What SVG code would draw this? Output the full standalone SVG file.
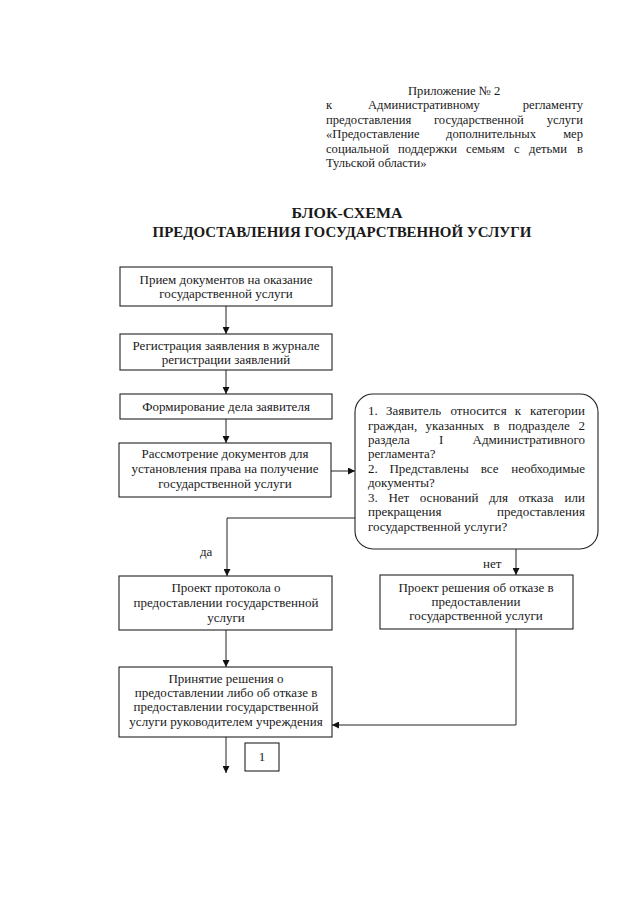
<svg xmlns="http://www.w3.org/2000/svg" width="640" height="897" viewBox="0 0 640 897">
<style>
text{font-family:"Liberation Serif","Times New Roman",serif;font-size:13px;fill:#1a1a1a}
.h{font-size:12.6px}
.c{text-anchor:middle}
.e{text-anchor:end}
.t{font-weight:bold;font-size:15px;text-anchor:middle}
.box{fill:#fff;stroke:#222;stroke-width:1.1}
.ln{fill:none;stroke:#222;stroke-width:1}
</style>
<defs>
<marker id="ah" viewBox="0 0 10 10" refX="10" refY="5" markerWidth="7" markerHeight="7" markerUnits="userSpaceOnUse" orient="auto">
<path d="M0,0 L10,5 L0,10 z" fill="#111"/>
</marker>
</defs>
<rect width="640" height="897" fill="#fff"/>

<g id="header" class="h">
<text class="h" x="408" y="95">Приложение № 2</text>
<text class="h" x="326" y="109">к</text><text class="h" x="368" y="109">Административному</text><text class="h e" x="583" y="109">регламенту</text>
<text class="h" x="326" y="124">предоставления</text><text class="h" x="434" y="124">государственной</text><text class="h e" x="583" y="124">услуги</text>
<text class="h" x="326" y="138">«Предоставление</text><text class="h" x="446" y="138">дополнительных</text><text class="h e" x="583" y="138">мер</text>
<text class="h" x="326" y="153">социальной</text><text class="h" x="398" y="153">поддержки</text><text class="h" x="466" y="153">семьям</text><text class="h" x="514" y="153">с</text><text class="h" x="529" y="153">детьми</text><text class="h e" x="583" y="153">в</text>
<text class="h" x="326" y="167">Тульской области»</text>
</g>

<g id="title">
<text class="t" x="347" y="218" textLength="111" lengthAdjust="spacingAndGlyphs">БЛОК-СХЕМА</text>
<text class="t" x="342" y="237" textLength="379" lengthAdjust="spacingAndGlyphs">ПРЕДОСТАВЛЕНИЯ ГОСУДАРСТВЕННОЙ УСЛУГИ</text>
</g>

<g id="connectors">
<path class="ln" d="M226,306 V334" marker-end="url(#ah)"/>
<path class="ln" d="M226,370 V394" marker-end="url(#ah)"/>
<path class="ln" d="M226,419 V443" marker-end="url(#ah)"/>
<path class="ln" d="M331,471 H355" marker-end="url(#ah)"/>
<path class="ln" d="M355,518 H227 V576" marker-end="url(#ah)"/>
<path class="ln" d="M516,549 V575" marker-end="url(#ah)"/>
<path class="ln" d="M226,630 V667" marker-end="url(#ah)"/>
<path class="ln" d="M516,629 V725 H332" marker-end="url(#ah)"/>
<path class="ln" d="M226,737 V773" marker-end="url(#ah)"/>
<text x="200" y="556">да</text>
<text x="483" y="568">нет</text>
</g>

<g id="n1">
<rect class="box" x="120" y="267" width="212" height="39"/>
<text class="c" x="226" y="284">Прием документов на оказание</text>
<text class="c" x="226" y="298">государственной услуги</text>
</g>

<g id="n2">
<rect class="box" x="120" y="334" width="212" height="36"/>
<text class="c" x="226" y="350">Регистрация заявления в журнале</text>
<text class="c" x="226" y="364">регистрации заявлений</text>
</g>

<g id="n3">
<rect class="box" x="120" y="394" width="212" height="25"/>
<text class="c" x="226" y="411">Формирование дела заявителя</text>
</g>

<g id="n4">
<rect class="box" x="119" y="443" width="212" height="54"/>
<text class="c" x="225" y="458">Рассмотрение документов для</text>
<text class="c" x="225" y="473">установления права на получение</text>
<text class="c" x="225" y="488">государственной услуги</text>
</g>

<g id="decision">
<rect class="box" x="355" y="394" width="243" height="155" rx="18" ry="18"/>
<text x="368" y="415">1.</text><text x="386" y="415">Заявитель</text><text x="450.5" y="415">относится</text><text x="514.7" y="415">к</text><text class="e" x="585" y="415">категории</text>
<text x="368" y="430">граждан,</text><text x="425.6" y="430">указанных</text><text x="493.4" y="430">в</text><text x="508.3" y="430">подразделе</text><text class="e" x="585" y="430">2</text>
<text x="368" y="444">раздела</text><text x="439" y="444">I</text><text class="e" x="585" y="444">Административного</text>
<text x="368" y="458">регламента?</text>
<text x="368" y="473">2.</text><text x="389.4" y="473">Представлены</text><text x="480.8" y="473">все</text><text class="e" x="585" y="473">необходимые</text>
<text x="368" y="487">документы?</text>
<text x="368" y="502">3.</text><text x="388.4" y="502">Нет</text><text x="419.8" y="502">оснований</text><text x="488.9" y="502">для</text><text x="518.6" y="502">отказа</text><text class="e" x="585" y="502">или</text>
<text x="368" y="516">прекращения</text><text class="e" x="585" y="516">предоставления</text>
<text x="368" y="531">государственной услуги?</text>
</g>

<g id="n5">
<rect class="box" x="119" y="576" width="213" height="54"/>
<text class="c" x="226" y="592">Проект протокола о</text>
<text class="c" x="226" y="607">предоставлении государственной</text>
<text class="c" x="226" y="622">услуги</text>
</g>

<g id="n6">
<rect class="box" x="380" y="575" width="193" height="54"/>
<text class="c" x="476" y="592">Проект решения об отказе в</text>
<text class="c" x="476" y="606">предоставлении</text>
<text class="c" x="476" y="620">государственной услуги</text>
</g>

<g id="n7">
<rect class="box" x="119" y="667" width="213" height="70"/>
<text class="c" x="226" y="683">Принятие решения о</text>
<text class="c" x="226" y="697">предоставлении либо об отказе в</text>
<text class="c" x="226" y="711">предоставлении государственной</text>
<text class="c" x="226" y="726">услуги руководителем учреждения</text>
</g>

<g id="n8">
<rect class="box" x="245" y="743" width="34" height="28"/>
<text class="c" x="262" y="761">1</text>
</g>
</svg>
